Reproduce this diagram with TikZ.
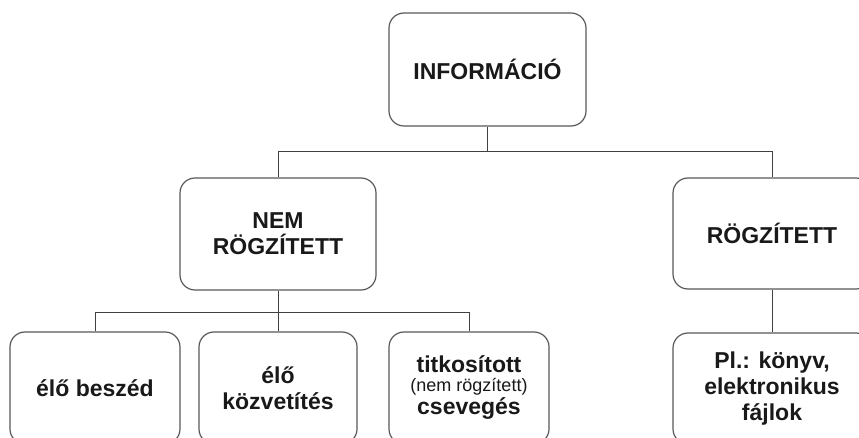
\documentclass[tikz,border=0pt]{standalone}
\usepackage{fontspec}
\setmainfont{Liberation Sans}
\begin{document}
\begin{tikzpicture}[x=1pt,y=-1pt,
  box/.style={draw=black!65, line width=1.2pt, rounded corners=15pt,
    fill=white, align=center, text=black!90,
    font=\bfseries\fontsize{23}{26}\selectfont, inner sep=0pt},
  wire/.style={draw=black!75, line width=1pt}]
  \clip (0,0) rectangle (859,438);
  \fill[white] (0,0) rectangle (859,438);

  % top level
  \node[box, minimum width=197pt, minimum height=113pt] (info) at (487.5,69.5) {INFORMÁCIÓ};

  % second level
  \node[box, minimum width=196pt, minimum height=112pt] (nem) at (278,234) {NEM\\RÖGZÍTETT};
  \node[box, minimum width=198pt, minimum height=111pt] (rog) at (772,233.5) {RÖGZÍTETT};

  % leaves
  \node[box, minimum width=170pt, minimum height=112pt] (elo) at (95,388) {élő beszéd};
  \node[box, minimum width=158pt, minimum height=112pt] (kozv) at (278,388) {élő\\közvetítés};
  \node[box, minimum width=160pt, minimum height=112pt] (titk) at (469,388)
    {titkosított\\[-7pt]{\mdseries\fontsize{18}{20}\selectfont(nem rögzített)}\\[-3pt]csevegés};
  \node[box, minimum width=198pt, minimum height=111pt] (pl) at (772,388.5)
    {Pl.: könyv,\\elektronikus\\fájlok};

  % connectors
  \coordinate (j1) at (487.5,152);
  \coordinate (j2) at (278,312);
  \draw[wire] (info.south) -- (j1);
  \draw[wire] (j1) -| (nem.north);
  \draw[wire] (j1) -| (rog.north);
  \draw[wire] (nem.south) -- (j2);
  \draw[wire] (j2) -| (elo.north);
  \draw[wire] (j2) -- (kozv.north);
  \draw[wire] (j2) -| (titk.north);
  \draw[wire] (rog.south) -- (pl.north);
\end{tikzpicture}
\end{document}
